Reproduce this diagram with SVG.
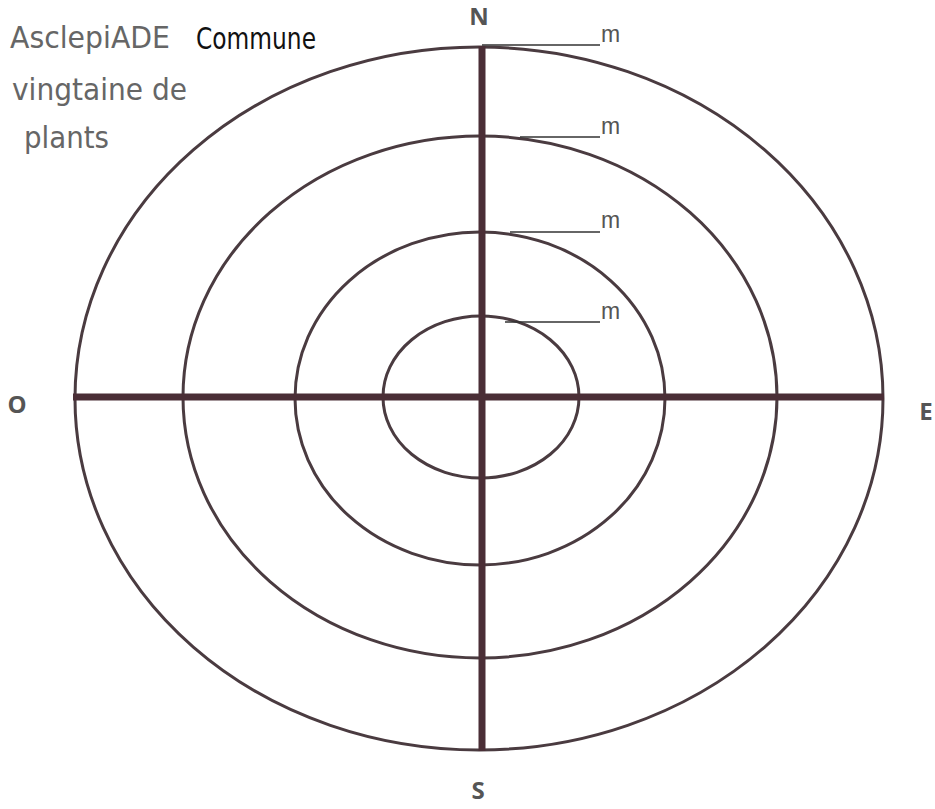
<svg xmlns="http://www.w3.org/2000/svg" width="935" height="809" viewBox="0 0 935 809">
<style>
.ring{fill:none;stroke:#4a3b40;stroke-width:3}
.axis{stroke:#4a2e36;stroke-width:7}
.lead{stroke:#333;stroke-width:1.5}
.dir{font-family:"Open Sans","DejaVu Sans",sans-serif;font-weight:bold;font-size:24px;fill:#555;text-anchor:middle}
.m{font-family:"Liberation Sans",sans-serif;font-size:23px;fill:#555}
.hand{font-family:"DejaVu Sans Condensed","DejaVu Sans",sans-serif;font-size:30px;fill:#666}
</style>
<rect width="935" height="809" fill="#fff"/>
<g id="rings">
<ellipse id="ring1" class="ring" cx="481" cy="397" rx="98" ry="81"/>
<ellipse id="ring2" class="ring" cx="480" cy="398.5" rx="185" ry="166.5"/>
<ellipse id="ring3" class="ring" cx="480" cy="397" rx="297" ry="261"/>
<ellipse id="ring4" class="ring" cx="479" cy="398.5" rx="404" ry="351.5"/>
</g>
<g id="connectors">
<line class="axis" x1="482" y1="46" x2="482" y2="751"/>
<line class="axis" x1="73" y1="397" x2="884" y2="397"/>
<line class="lead" x1="482" y1="45" x2="600" y2="45"/>
<line class="lead" x1="520" y1="137" x2="600" y2="137"/>
<line class="lead" x1="510" y1="232" x2="600" y2="232"/>
<line class="lead" x1="505" y1="322" x2="600" y2="322"/>
</g>
<g id="labels">
<text class="dir" x="479" y="25">N</text>
<text class="dir" x="17" y="413">O</text>
<text class="dir" x="926" y="420">E</text>
<text class="dir" x="478" y="799">S</text>
<text class="m" x="601" y="42">m</text>
<text class="m" x="601" y="134">m</text>
<text class="m" x="601" y="228">m</text>
<text class="m" x="601" y="319">m</text>
</g>
<g id="handwriting">
<text class="hand" x="10" y="48" textLength="160" lengthAdjust="spacingAndGlyphs">AsclepiADE</text>
<text class="hand" x="196" y="49" textLength="120" lengthAdjust="spacingAndGlyphs" style="fill:#111">Commune</text>
<text class="hand" x="12" y="100" textLength="175" lengthAdjust="spacingAndGlyphs">vingtaine de</text>
<text class="hand" x="24" y="148" textLength="85" lengthAdjust="spacingAndGlyphs">plants</text>
</g>
</svg>
